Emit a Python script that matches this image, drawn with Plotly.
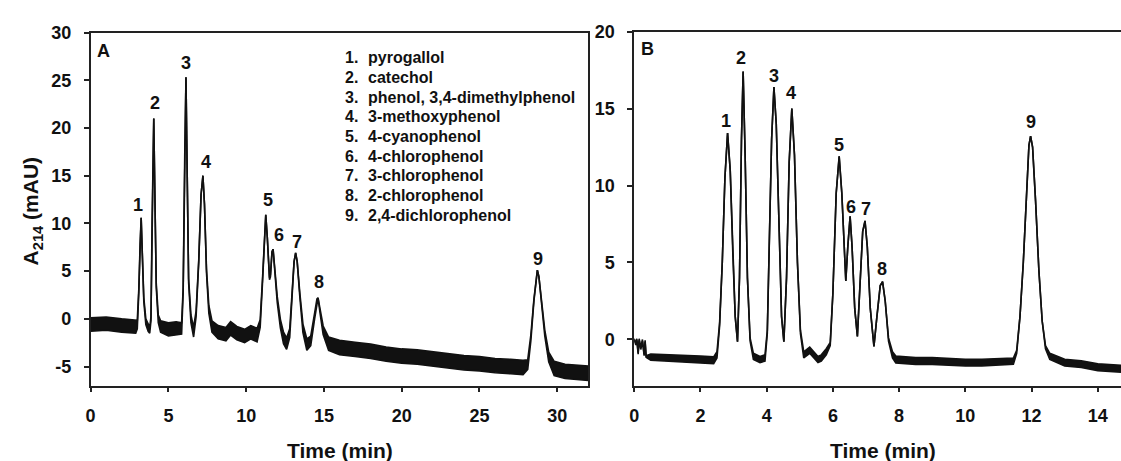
import plotly.graph_objects as go

# ---------------- Panel A ----------------
time_A = [0.0, 1.0, 2.0, 2.9, 3.0, 3.1, 3.18, 3.25, 3.32, 3.42, 3.55, 3.7, 3.8,
          3.88, 3.95, 4.06, 4.14, 4.22, 4.35, 4.5, 5.0, 5.5, 5.85,
          5.95, 6.05, 6.13, 6.21, 6.3, 6.45, 6.62, 6.78, 6.95, 7.1, 7.22, 7.32,
          7.45, 7.6, 7.8, 8.2, 8.7, 9.0, 9.4, 9.9, 10.3, 10.7,
          10.9, 11.05, 11.18, 11.26, 11.36, 11.5, 11.56, 11.66, 11.73, 11.85,
          12.0, 12.2, 12.4, 12.6, 12.8, 12.95, 13.08, 13.18, 13.28, 13.45,
          13.65, 13.9, 14.15, 14.4, 14.55, 14.62, 14.75, 14.95, 15.3,
          16.0, 17.0, 18.0, 19.0, 20.0, 21.0, 22.0, 23.0, 24.0, 25.0, 26.0,
          27.0, 27.8, 28.1, 28.3, 28.5, 28.65, 28.72, 28.82, 29.0, 29.2,
          29.45, 29.8, 30.5, 31.2, 32.0]
signal_A = [-0.6, -0.5, -0.7, -0.8, -0.6, 3.0, 8.0, 10.6, 7.0, 2.0, -0.3, -0.9, -1.2,
            0.0, 10.0, 21.0, 12.0, 3.5, 0.0, -0.8, -1.1, -1.0, -1.0,
            3.0, 17.0, 25.3, 15.0, 4.0, 0.0, -1.4, 0.5, 6.0, 13.0, 15.0, 12.0,
            5.0, 1.0, -0.8, -1.4, -1.6, -1.0, -1.5, -1.8, -1.4, -1.7,
            -0.5, 4.0, 9.5, 10.9, 8.5, 4.2, 4.5, 7.0, 7.3, 5.0,
            2.0, -0.5, -2.0, -2.6, -1.5, 2.5, 6.0, 6.9, 6.0, 2.5,
            -1.0, -2.7, -2.3, 0.3, 2.0, 2.2, 0.8, -1.2, -2.6,
            -3.0, -3.2, -3.4, -3.7, -3.9, -4.0, -4.2, -4.4, -4.6, -4.7, -4.9,
            -5.0, -5.1, -4.8, -2.0, 2.0, 4.6, 5.1, 4.4, 1.5, -1.5,
            -4.0, -5.2, -5.5, -5.6, -5.7]
noise_A = [0.7, 0.7, 0.7, 0.7, 0.45, 0.2, 0.1, 0.0, 0.1, 0.2, 0.3, 0.4, 0.3,
           0.2, 0.0, 0.0, 0.0, 0.2, 0.4, 0.6, 0.7, 0.7, 0.6,
           0.2, 0.0, 0.0, 0.0, 0.2, 0.4, 0.5, 0.3, 0.1, 0.0, 0.0, 0.0,
           0.2, 0.4, 0.6, 0.7, 0.7, 0.7, 0.7, 0.7, 0.7, 0.7,
           0.4, 0.2, 0.0, 0.0, 0.0, 0.1, 0.1, 0.0, 0.0, 0.1,
           0.3, 0.45, 0.6, 0.6, 0.45, 0.2, 0.0, 0.0, 0.0, 0.2,
           0.45, 0.6, 0.5, 0.3, 0.1, 0.0, 0.2, 0.45, 0.7,
           0.75, 0.75, 0.75, 0.75, 0.75, 0.75, 0.75, 0.75, 0.75, 0.75, 0.75,
           0.75, 0.75, 0.5, 0.3, 0.1, 0.0, 0.0, 0.0, 0.1, 0.3,
           0.5, 0.75, 0.75, 0.75, 0.75]
labels_A = ["1", "2", "3", "4", "5", "6", "7", "8", "9"]
label_x_A = [3.06, 4.17, 6.15, 7.41, 11.43, 12.09, 13.25, 14.7, 28.74]
label_y_A = [11.9, 22.6, 26.8, 16.4, 12.5, 8.8, 8.0, 3.9, 6.3]
xticks_A = [0, 5, 10, 15, 20, 25, 30]
yticks_A = [-5, 0, 5, 10, 15, 20, 25, 30]
yticktext_A = ["-5", "0", "5", "10", "15", "20", "25", "30"]

# ---------------- Panel B ----------------
time_B = [0.0, 0.05, 0.08, 0.12, 0.15, 0.2, 0.25, 0.3, 0.33, 0.36, 0.5,
          1.0, 1.5, 2.0, 2.4, 2.5, 2.58, 2.66, 2.74, 2.82, 2.9, 2.98, 3.05,
          3.12, 3.18, 3.24, 3.29, 3.35, 3.42, 3.5, 3.6, 3.8, 3.95,
          4.02, 4.08, 4.15, 4.22, 4.29, 4.38, 4.45, 4.52, 4.6, 4.68, 4.76,
          4.84, 4.93, 5.02, 5.12, 5.3, 5.42, 5.55, 5.65, 5.8, 5.92,
          6.0, 6.1, 6.19, 6.27, 6.34, 6.39, 6.45, 6.52, 6.58, 6.66, 6.74,
          6.82, 6.9, 6.97, 7.04, 7.13, 7.24, 7.33, 7.43, 7.5, 7.58, 7.68,
          7.8, 7.9, 8.5, 9.0, 9.5, 10.0, 10.5, 11.0, 11.45, 11.55, 11.65,
          11.75, 11.85, 11.92, 11.97, 12.03, 12.12, 12.22, 12.32, 12.42,
          12.55, 13.0, 13.5, 14.0, 14.7]
signal_B = [0.0, -0.3, 0.0, -0.9, 0.0, -0.6, -0.05, -1.0, -0.1, -1.1, -1.15,
            -1.2, -1.25, -1.3, -1.35, -1.0, 1.0, 5.0, 10.5, 13.4, 11.0, 5.5, 1.5,
            -0.15, 4.0, 13.0, 17.4, 12.0, 4.0, 0.0, -1.1, -1.3, -1.2,
            0.5, 6.0, 13.0, 16.4, 14.0, 7.0, 1.5, -0.15, 4.0, 11.5, 15.0,
            12.0, 5.0, 0.5, -1.0, -0.7, -1.0, -1.3, -1.2, -0.8, -0.3,
            3.0, 9.5, 11.9, 9.5, 5.5, 3.8, 6.0, 8.0, 6.0, 2.0, 0.2,
            3.5, 7.0, 7.7, 6.0, 2.0, -0.45, 1.5, 3.5, 3.75, 2.5, 0.0,
            -1.0, -1.3, -1.4, -1.4, -1.45, -1.5, -1.5, -1.45, -1.4, -0.8, 1.5,
            5.0, 10.0, 12.6, 13.2, 12.5, 9.0, 4.5, 1.2, -0.5,
            -1.1, -1.5, -1.6, -1.8, -1.9]
noise_B = [0.05, 0.05, 0.05, 0.05, 0.05, 0.05, 0.05, 0.05, 0.05, 0.05, 0.2,
           0.22, 0.22, 0.22, 0.22, 0.2, 0.1, 0.0, 0.0, 0.0, 0.0, 0.0, 0.0,
           0.0, 0.0, 0.0, 0.0, 0.0, 0.0, 0.1, 0.2, 0.2, 0.2,
           0.1, 0.0, 0.0, 0.0, 0.0, 0.0, 0.0, 0.0, 0.0, 0.0, 0.0,
           0.0, 0.0, 0.1, 0.2, 0.2, 0.2, 0.2, 0.2, 0.2, 0.1,
           0.0, 0.0, 0.0, 0.0, 0.0, 0.0, 0.0, 0.0, 0.0, 0.0, 0.0,
           0.0, 0.0, 0.0, 0.0, 0.0, 0.0, 0.0, 0.0, 0.0, 0.0, 0.1,
           0.2, 0.22, 0.22, 0.22, 0.22, 0.22, 0.22, 0.22, 0.2, 0.1, 0.0,
           0.0, 0.0, 0.0, 0.0, 0.0, 0.0, 0.0, 0.0, 0.1,
           0.2, 0.22, 0.22, 0.22, 0.22]
labels_B = ["1", "2", "3", "4", "5", "6", "7", "8", "9"]
label_x_B = [2.77, 3.22, 4.21, 4.74, 6.19, 6.54, 6.99, 7.47, 11.97]
label_y_B = [14.2, 18.3, 17.1, 16.0, 12.6, 8.6, 8.5, 4.6, 14.1]
xticks_B = [0, 2, 4, 6, 8, 10, 12, 14]
yticks_B = [0, 5, 10, 15, 20]

compounds = ["pyrogallol", "catechol", "phenol, 3,4-dimethylphenol",
             "3-methoxyphenol", "4-cyanophenol", "4-chlorophenol",
             "3-chlorophenol", "2-chlorophenol", "2,4-dichlorophenol"]

W, H = 1121, 461
FONT = "Liberation Sans, Arial, sans-serif"
INK = "#111111"


def px(x):
    return x / W


def py(y):
    return 1 - y / H


fig = go.Figure()


def add_band(t, s, n, xa, ya):
    lo = [a - b for a, b in zip(s, n)]
    hi = [a + b for a, b in zip(s, n)]
    fig.add_trace(go.Scatter(x=t, y=lo, mode="lines", xaxis=xa, yaxis=ya,
                             line=dict(color=INK, width=1.6), showlegend=False,
                             hoverinfo="skip"))
    fig.add_trace(go.Scatter(x=t, y=hi, mode="lines", xaxis=xa, yaxis=ya,
                             line=dict(color=INK, width=1.6), fill="tonexty",
                             fillcolor=INK, showlegend=False, hoverinfo="skip"))


add_band(time_A, signal_A, noise_A, "x", "y")
add_band(time_B, signal_B, noise_B, "x2", "y2")

tick_font = dict(family=FONT, size=18, color=INK, weight="bold")
axis_common = dict(showgrid=False, zeroline=False, showline=True, linecolor="#222",
                   linewidth=1.6, ticks="outside", ticklen=5, tickwidth=1.5,
                   tickcolor="#222", tickfont=tick_font)

fig.update_layout(
    width=W, height=H, margin=dict(l=0, r=0, t=0, b=0),
    paper_bgcolor="white", plot_bgcolor="white", showlegend=False,
    xaxis=dict(domain=[px(86), px(586)], range=[0, 32], tickvals=xticks_A,
               mirror=True, anchor="y", ticklabelstandoff=8, **axis_common),
    yaxis=dict(domain=[py(384), py(23)], range=[-7, 30], tickvals=yticks_A,
               ticktext=yticktext_A, mirror=True, anchor="x",
               ticklabelstandoff=9, **axis_common),
    xaxis2=dict(domain=[px(632), 1.0], range=[0, 14.7], tickvals=xticks_B,
                mirror=True, anchor="y2", ticklabelstandoff=8, **axis_common),
    yaxis2=dict(domain=[py(384), py(22)], range=[-3, 20], tickvals=yticks_B,
                mirror=False, anchor="x2", ticklabelstandoff=9, **axis_common),
)

ann = []
lab_font = dict(family=FONT, size=18, color=INK, weight="bold")
for t, xv, yv in zip(labels_A, label_x_A, label_y_A):
    ann.append(dict(x=xv, y=yv, xref="x", yref="y", text=t, showarrow=False,
                    font=lab_font, xanchor="center", yanchor="middle"))
for t, xv, yv in zip(labels_B, label_x_B, label_y_B):
    ann.append(dict(x=xv, y=yv, xref="x2", yref="y2", text=t, showarrow=False,
                    font=lab_font, xanchor="center", yanchor="middle"))

# panel letters
ann.append(dict(x=px(99), y=py(42), xref="paper", yref="paper", text="A",
                showarrow=False, font=lab_font, xanchor="center", yanchor="middle"))
ann.append(dict(x=px(645), y=py(40), xref="paper", yref="paper", text="B",
                showarrow=False, font=lab_font, xanchor="center", yanchor="middle"))

# compound list
leg_font = dict(family=FONT, size=16, color=INK, weight="bold")
for i, name in enumerate(compounds):
    yy = 49 + i * 20.1
    ann.append(dict(x=px(340), y=py(yy), xref="paper", yref="paper",
                    text=f"{i + 1}.", showarrow=False, font=leg_font,
                    xanchor="left", yanchor="middle"))
    ann.append(dict(x=px(363), y=py(yy), xref="paper", yref="paper",
                    text=name, showarrow=False, font=leg_font,
                    xanchor="left", yanchor="middle"))

# axis titles
title_font = dict(family=FONT, size=21, color=INK, weight="bold")
ann.append(dict(x=px(337), y=py(450), xref="paper", yref="paper",
                text="Time (min)", showarrow=False, font=title_font,
                xanchor="center", yanchor="middle"))
ann.append(dict(x=px(882), y=py(450), xref="paper", yref="paper",
                text="Time (min)", showarrow=False, font=title_font,
                xanchor="center", yanchor="middle"))
ann.append(dict(x=px(27), y=py(205), xref="paper", yref="paper",
                text="A<sub>214</sub> (mAU)", showarrow=False, font=title_font,
                textangle=-90, xanchor="center", yanchor="middle"))

fig.update_layout(annotations=ann)
fig.write_html("out.html")
